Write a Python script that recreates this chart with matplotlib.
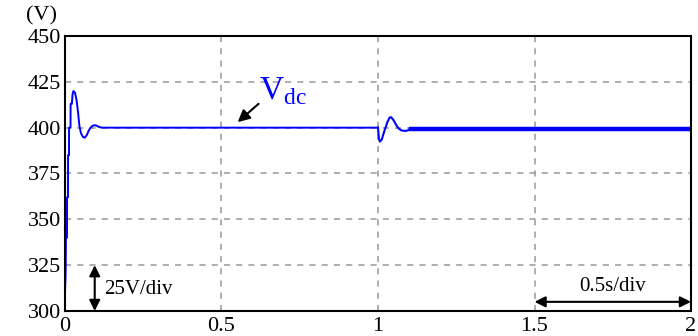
import numpy as np
import matplotlib.pyplot as plt

# start-up transient (s, V)
t_start = [0.0, 0.0, 0.002, 0.003, 0.0064, 0.0066, 0.0096, 0.0098, 0.0128, 0.013,
           0.0176, 0.018, 0.022, 0.024, 0.027, 0.032, 0.037, 0.042, 0.046, 0.051,
           0.057, 0.063, 0.070, 0.076, 0.082, 0.088, 0.094, 0.100, 0.106, 0.112,
           0.120, 1.0]
v_start = [308, 310, 320, 340, 340, 362, 362, 385, 385, 400,
           400, 413, 413, 418, 420, 419, 415, 408, 401, 397,
           395, 394.5, 396, 398.5, 400, 401, 401.3, 401.2, 400.6, 400.2,
           400, 400]

# load step at t = 1 s
t_step = [1.0, 1.003, 1.006, 1.012, 1.02, 1.03, 1.037, 1.042, 1.05, 1.058,
          1.066, 1.075, 1.086, 1.095, 1.105]
v_step = [400, 394, 392.4, 393.5, 398, 403, 405.5, 405.7, 404, 401.5,
          399.5, 398.5, 398.2, 398.5, 399.5]

# steady state with ripple
t_ss = [1.105, 2.0]
v_ss = [399.5, 399.5]

x_ticks = [0, 0.5, 1, 1.5, 2]
x_labels = ['0', '0.5', '1', '1.5', '2']
y_ticks = [300, 325, 350, 375, 400, 425, 450]

plt.rcParams['font.family'] = ['Liberation Serif', 'DejaVu Serif']

fig = plt.figure(figsize=(6.98, 3.36), dpi=100)
ax = fig.add_axes([0.0931, 0.0744, 0.8969, 0.8185])

blue = '#0000ff'
ax.plot(t_start, v_start, color=blue, lw=1.4)
ax.plot(t_step, v_step, color=blue, lw=1.5)
ax.plot(t_ss, v_ss, color=blue, lw=3.2)

ax.set_xlim(0, 2)
ax.set_ylim(300, 450)
ax.set_xticks(x_ticks)
ax.set_xticklabels(x_labels)
ax.set_yticks(y_ticks)
ax.tick_params(length=0, labelsize=16)
ax.tick_params(axis='x', pad=4)
ax.tick_params(axis='y', pad=3)
ax.grid(True, color='#999999', ls=(0, (4, 4)), lw=1.1)
for s in ax.spines.values():
    s.set_linewidth(1.5)

ax.text(-0.025, 456, '(V)', fontsize=16, ha='right', va='bottom')

# Vdc label + arrow
ax.text(0.62, 411, r'V$_{\mathregular{dc}}$', color=blue, fontsize=24, ha='left', va='bottom')
ax.annotate('', xy=(0.545, 402), xytext=(0.625, 414),
            arrowprops=dict(arrowstyle='-|>', color='black', lw=1.5, mutation_scale=18))

# 25V/div
ax.annotate('', xy=(0.095, 300), xytext=(0.095, 325),
            arrowprops=dict(arrowstyle='<|-|>', color='black', lw=1.5, mutation_scale=16, shrinkA=0, shrinkB=0))
ax.text(0.125, 311.5, '25V/div', fontsize=15, ha='left', va='center')

# 0.5s/div
ax.annotate('', xy=(1.5, 305), xytext=(2.0, 305),
            arrowprops=dict(arrowstyle='<|-|>', color='black', lw=1.5, mutation_scale=16, shrinkA=0, shrinkB=0))
ax.text(1.75, 308, '0.5s/div', fontsize=15, ha='center', va='bottom')

fig.savefig('out.png', dpi=100)
